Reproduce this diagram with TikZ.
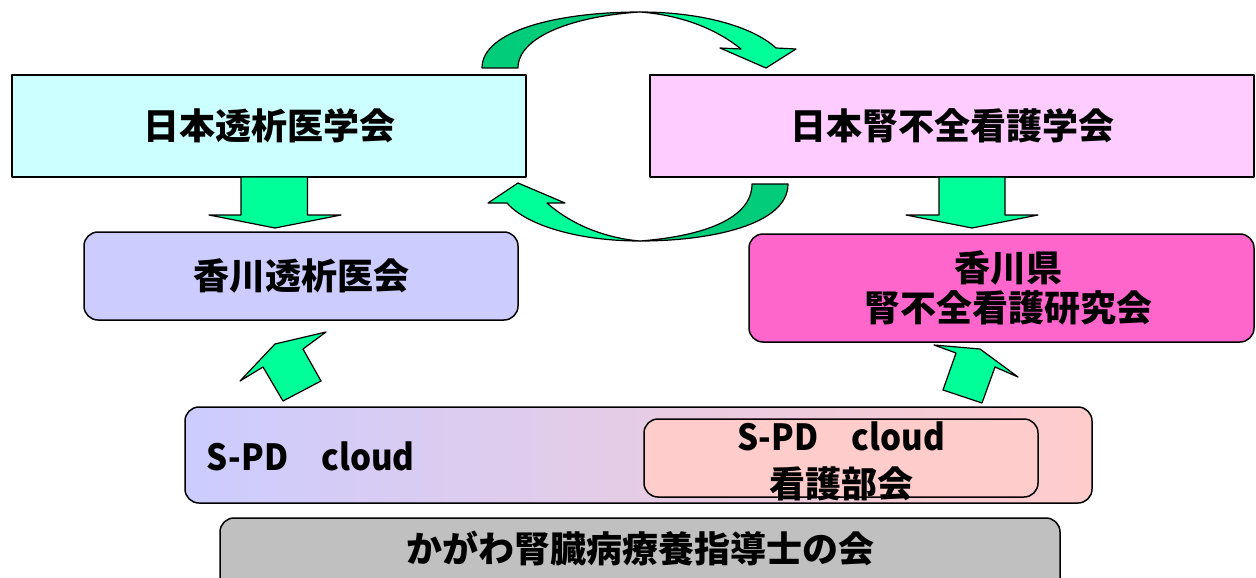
\documentclass[tikz,border=0pt]{standalone}
\usepackage{fontspec}
\setmainfont{Noto Sans CJK JP}
\definecolor{lg}{HTML}{00FF99}
\definecolor{dg}{HTML}{00CC7A}
\definecolor{cA}{HTML}{CCFFFF}
\definecolor{cB}{HTML}{FFCCFF}
\definecolor{cC}{HTML}{CCCCFF}
\definecolor{cD}{HTML}{FF66CC}
\definecolor{cE}{HTML}{FFCCCC}
\definecolor{cG}{HTML}{C0C0C0}
\newcommand{\narrowtxt}[1]{\scalebox{0.92}[1]{#1}}
\begin{document}
\begin{tikzpicture}[x=1pt,y=-1pt,line join=round]
\tikzset{
  box/.style={draw=black,line width=1.5pt,inner sep=0pt,align=center,
    font=\fontsize{36}{40}\selectfont\bfseries},
  rbox/.style={box,rounded corners=14pt},
  label/.style={box,draw=none},
  barrow/.style={draw=black,line width=1.2pt,fill=lg},
  darrow/.style={draw=black,line width=1.2pt,fill=dg}
}
\useasboundingbox (0,0) rectangle (1256,578);
% top boxes
\node[box,fill=cA,minimum width=514pt,minimum height=102pt] (jsdt) at (269,126) {日本透析医学会};
\node[box,fill=cB,minimum width=604pt,minimum height=102pt] (jann) at (952,126) {日本腎不全看護学会};
% middle boxes
\node[rbox,fill=cD,minimum width=505pt,minimum height=108pt] (kann) at (1001.5,288) {\hspace*{13pt}香川県\\\hspace*{13pt}腎不全看護研究会};
\node[rbox,fill=cC,minimum width=434pt,minimum height=88pt] (kda) at (301,276) {香川透析医会};
% bottom
\node[rbox,left color=cC,right color=cE,minimum width=907pt,minimum height=96pt] (spd) at (638.5,455) {};
\node[label,anchor=west] (spdt) at (206,456) {\narrowtxt{S-PD　cloud}};
\node[rbox,fill=cE,minimum width=394pt,minimum height=78pt] (spdn) at (841,458) {};
\node[label,font=\fontsize{36}{47}\selectfont\bfseries] (spdnt) at ([yshift=-3.5pt]spdn.center) {\narrowtxt{S-PD　cloud}\\看護部会};
\node[rbox,fill=cG,minimum width=840pt,minimum height=76pt] (kdg) at (640,556) {};
\node[label] (kdgt) at (640,548) {かがわ腎臓病療養指導士の会};
% straight down arrows
\draw[barrow] (241,177) -- (307.5,177) -- (307.5,215) -- (341,215) -- (275,228) -- (209,215) -- (241,215) -- cycle;
\draw[barrow] (939,177) -- (1005,177) -- (1005,215) -- (1038,215) -- (972,228) -- (906,215) -- (939,215) -- cycle;
% tilted up arrows
\draw[barrow] (326,332) -- (275,344) -- (240,381) -- (263,367) -- (283,401) -- (321,381) -- (303,349) -- cycle;
\draw[barrow] (934,345) -- (980,349) -- (1018,377) -- (995,367) -- (982,403) -- (943,390) -- (956,353) -- cycle;
% top curved arrow
\draw[darrow] (482,68) .. controls (482,30) and (560,12) .. (640,12)
  .. controls (575,16) and (518,36) .. (518,68) -- cycle;
\draw[barrow] (640,12) .. controls (700,12) and (752,26) .. (776,48)
  -- (796,49) -- (766,68) -- (720,48) -- (741,49)
  .. controls (715,28) and (680,15) .. (640,12) -- cycle;
% bottom curved arrow
\draw[darrow] (752,184) -- (788,184) .. controls (788,225) and (710,241) .. (640,241)
  .. controls (705,236) and (752,218) .. (752,184) -- cycle;
\draw[barrow] (640,241) .. controls (580,241) and (527,226) .. (507,203)
  -- (488,203) -- (518,183) -- (565,203) -- (547,203)
  .. controls (572,225) and (605,238) .. (640,241) -- cycle;
\end{tikzpicture}
\end{document}
